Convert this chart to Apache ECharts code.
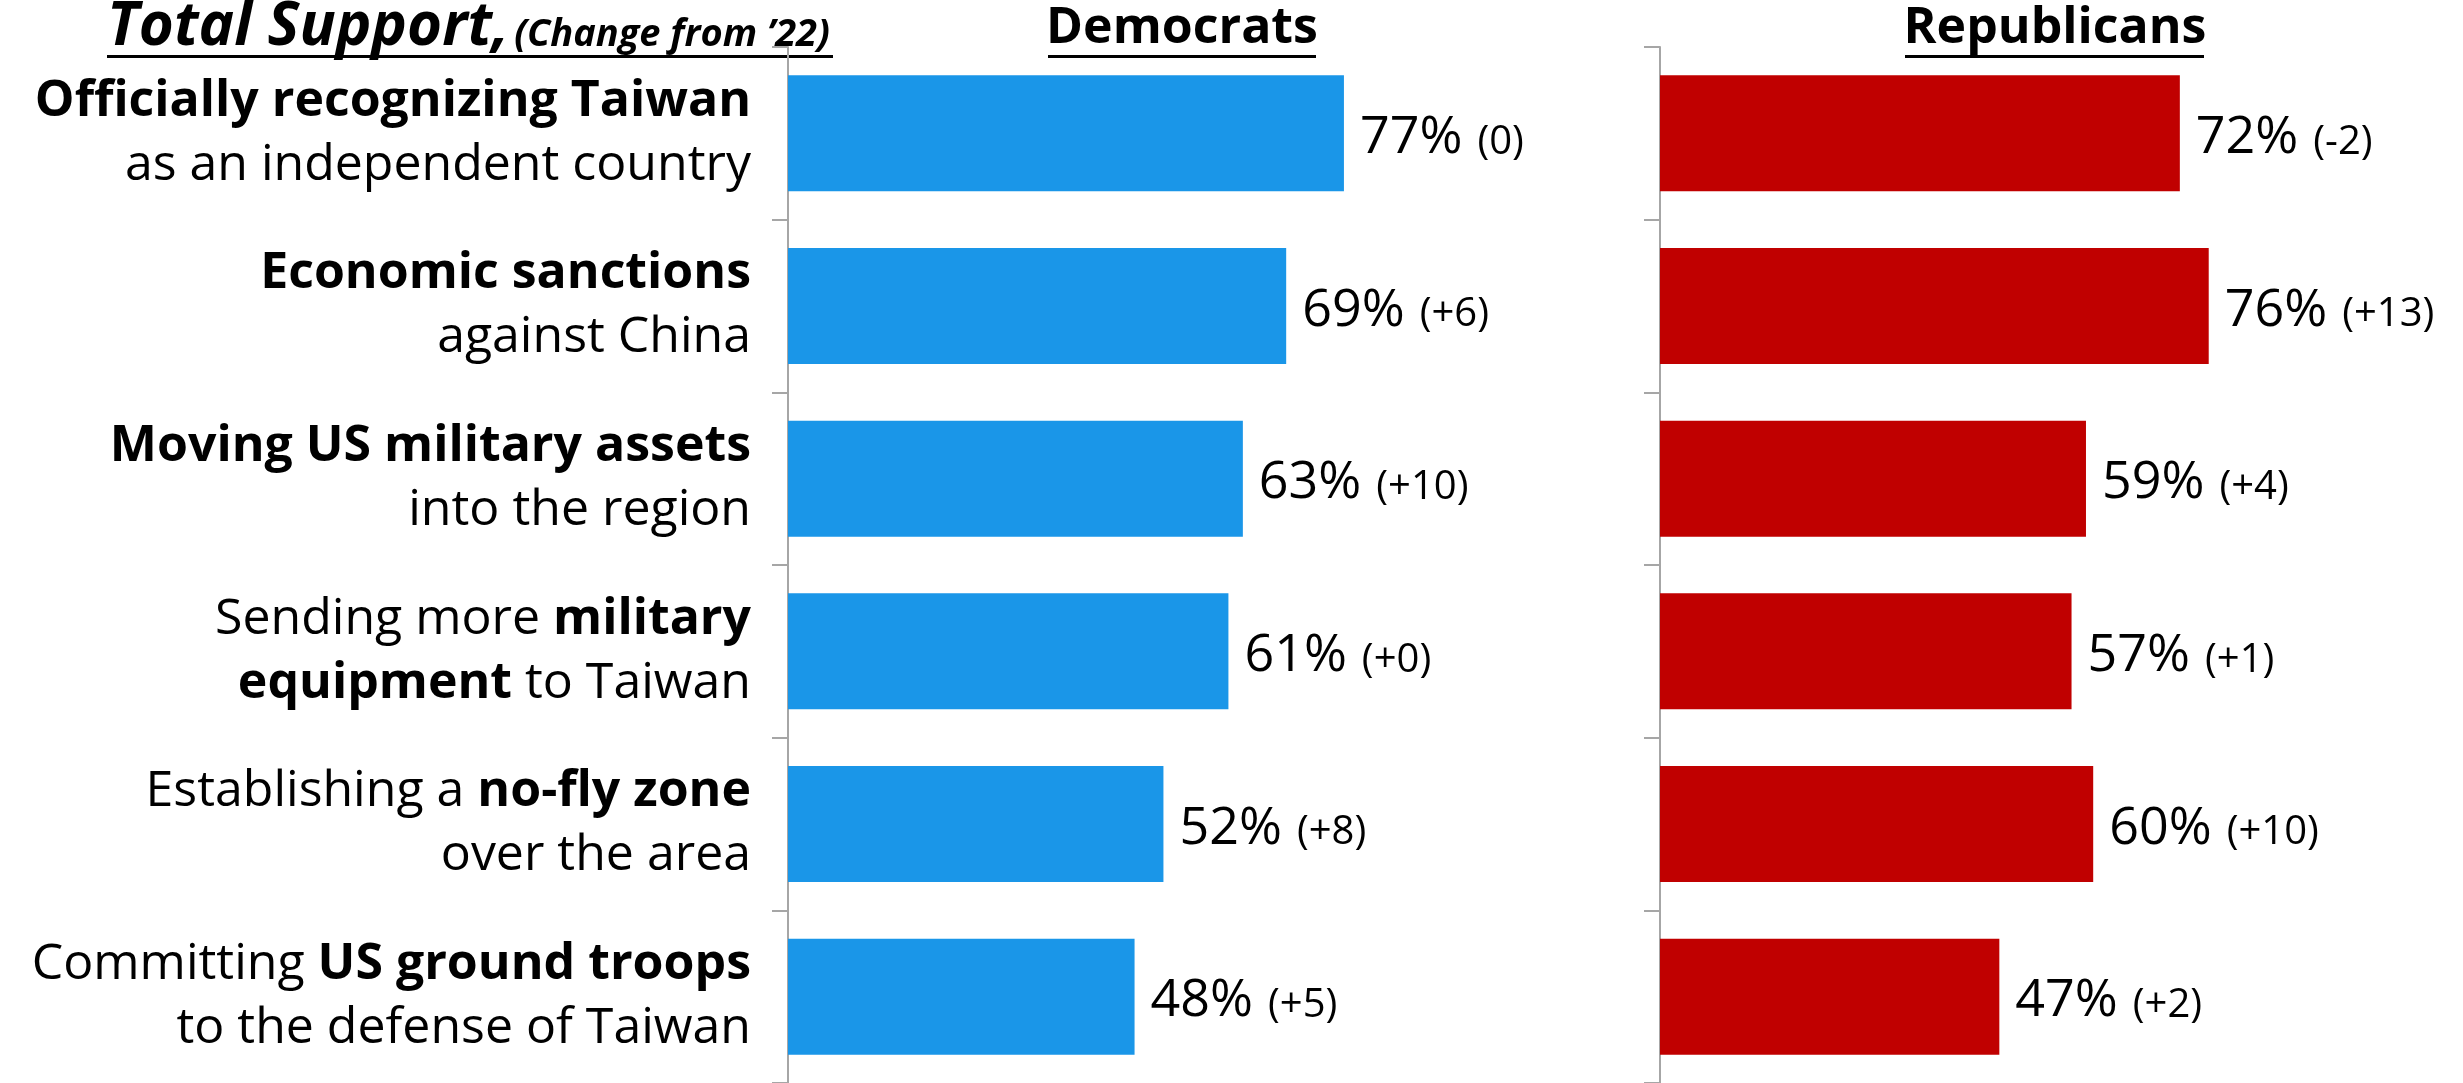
<!DOCTYPE html>
<html>
<head>
<meta charset="utf-8">
<script src="https://cdn.jsdelivr.net/npm/echarts@6/dist/echarts.min.js"></script>
<style>html,body{margin:0;padding:0;background:#fff}#c{width:2463px;height:1083px}</style>
</head>
<body>
<div id="c"></div>
<script>
// ---- data ----
var categoryLabels = [
  '{b|Officially recognizing Taiwan}\n{r|as an independent country}',
  '{b|Economic sanctions}\n{r|against China}',
  '{b|Moving US military assets}\n{r|into the region}',
  '{r|Sending more }{b|military}\n{b|equipment}{r| to Taiwan}',
  '{r|Establishing a }{b|no-fly zone}\n{r|over the area}',
  '{r|Committing }{b|US ground troops}\n{r|to the defense of Taiwan}'
];
var categories = ['c1','c2','c3','c4','c5','c6'];
var demValues = [77, 69, 63, 61, 52, 48];
var demChange = ['0', '+6', '+10', '+0', '+8', '+5'];
var repValues = [72, 76, 59, 57, 60, 47];
var repChange = ['-2', '+13', '+4', '+1', '+10', '+2'];
var panelTitles = ['Democrats', 'Republicans'];

var FONT = '"Open Sans", "Noto Sans", sans-serif';
var chart = echarts.init(document.getElementById('c'));

function valueLabel(changes) {
  return {
    show: true,
    position: 'right',
    distance: 16,
    offset: [0, 5],
    formatter: function (p) { return '{p|' + p.value + '%}{c|(' + changes[p.dataIndex] + ')}'; },
    rich: {
      p: { fontSize: 52, color: '#000', fontFamily: FONT, verticalAlign: 'bottom' },
      c: { fontSize: 40, color: '#000', fontFamily: FONT, verticalAlign: 'bottom', padding: [0, 0, 2, 15] }
    }
  };
}

var yAxisBase = {
  type: 'category',
  data: categories,
  inverse: true,
  axisLine: { show: true, lineStyle: { color: '#a6a6a6', width: 2 } },
  axisTick: { show: true, length: 16, lineStyle: { color: '#a6a6a6', width: 2 } },
  splitLine: { show: false }
};

var option = {
  backgroundColor: '#fff',
  animation: false,
  textStyle: { fontFamily: FONT },
  grid: [
    { left: 788, width: 722, top: 47, bottom: 0 },
    { left: 1660, width: 722, top: 47, bottom: 0 }
  ],
  xAxis: [
    { gridIndex: 0, type: 'value', min: 0, max: 100, show: false },
    { gridIndex: 1, type: 'value', min: 0, max: 100, show: false }
  ],
  yAxis: [
    Object.assign({}, yAxisBase, {
      gridIndex: 0,
      axisLabel: {
        show: true,
        margin: 37,
        align: 'right',
        formatter: function (v, i) { return categoryLabels[i]; },
        rich: {
          b: { fontSize: 50, fontWeight: 'bold', color: '#000', fontFamily: FONT, lineHeight: 64 },
          r: { fontSize: 50, fontWeight: 'normal', color: '#000', fontFamily: FONT, lineHeight: 64 }
        }
      }
    }),
    Object.assign({}, yAxisBase, { gridIndex: 1, axisLabel: { show: false } })
  ],
  series: [
    {
      name: panelTitles[0], type: 'bar', xAxisIndex: 0, yAxisIndex: 0,
      data: demValues, barWidth: 116,
      itemStyle: { color: '#1a96e8' },
      label: valueLabel(demChange)
    },
    {
      name: panelTitles[1], type: 'bar', xAxisIndex: 1, yAxisIndex: 1,
      data: repValues, barWidth: 116,
      itemStyle: { color: '#c00000' },
      label: valueLabel(repChange)
    }
  ],
  graphic: [
    {
      type: 'text', left: 107, top: -2,
      style: {
        text: '{a|Total Support,}{s|(Change from \u201922)}',
        rich: {
          a: { fontSize: 60, fontWeight: 'bold', fontStyle: 'italic', fill: '#000', fontFamily: FONT, verticalAlign: 'bottom' },
          s: { fontSize: 38, fontWeight: 'bold', fontStyle: 'italic', fill: '#000', fontFamily: FONT, verticalAlign: 'bottom', padding: [0, 0, 4, 5] }
        }
      }
    },
    { type: 'rect', shape: { x: 107, y: 55, width: 726, height: 3 }, style: { fill: '#000' } },
    {
      type: 'text', x: 1182, y: 4,
      style: { text: panelTitles[0], fontSize: 50, fontWeight: 'bold', fill: '#000', fontFamily: FONT, textAlign: 'center', textVerticalAlign: 'top' }
    },
    { type: 'rect', shape: { x: 1048, y: 55, width: 268, height: 3 }, style: { fill: '#000' } },
    {
      type: 'text', x: 2055, y: 4,
      style: { text: panelTitles[1], fontSize: 50, fontWeight: 'bold', fill: '#000', fontFamily: FONT, textAlign: 'center', textVerticalAlign: 'top' }
    },
    { type: 'rect', shape: { x: 1905, y: 55, width: 299, height: 3 }, style: { fill: '#000' } }
  ]
};
chart.setOption(option);
</script>
</body>
</html>
